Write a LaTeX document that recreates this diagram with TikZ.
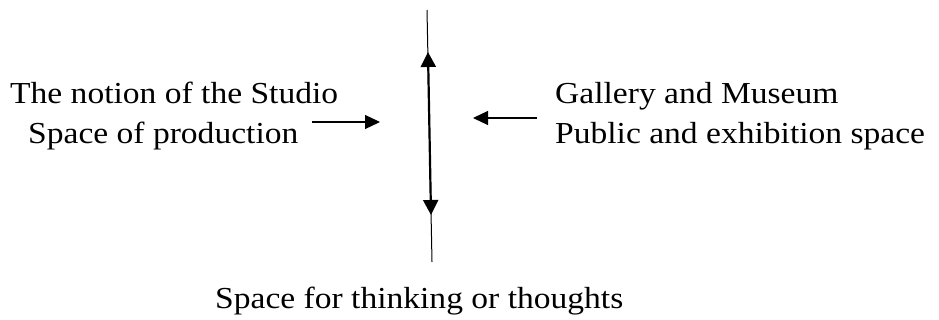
\documentclass[tikz,border=0pt]{standalone}
\usepackage{fontspec}
\setmainfont[FakeStretch=1.1]{Liberation Serif}
\usetikzlibrary{arrows.meta}
\tikzset{
  lbl/.style={inner sep=0pt, anchor=base west, font=\fontsize{30.5}{36}\selectfont},
  harrow/.style={line width=1.2pt, -{Triangle[length=15pt,width=14pt]}},
  axisthin/.style={line width=1pt},
  axisthick/.style={line width=2.2pt, {Triangle[length=15pt,width=15pt]}-{Triangle[length=15pt,width=15pt]}}
}
\begin{document}
\begin{tikzpicture}[x=1pt,y=-1pt]
\useasboundingbox (0,0) rectangle (939,320);
% text
\node[lbl] (l1) at (10,104) {The notion of the Studio};
\node[lbl] (l2) at (28,144) {Space of production};
\node[lbl] (r1) at (555,104) {Gallery and Museum};
\node[lbl] (r2) at (555,144) {Public and exhibition space};
\node[lbl] (b) at (215,308) {Space for thinking or thoughts};
% vertical axis
\coordinate (vt) at (427,10);
\coordinate (vb) at (432,262);
\coordinate (at) at (428,52);
\coordinate (ab) at (431,215);
\draw[axisthin] (vt) -- (vb);
\draw[axisthick] (at) -- (ab);
% horizontal arrows
\coordinate (la) at (312,122);
\coordinate (lt) at (380,122);
\coordinate (ra) at (537,118);
\coordinate (rt) at (473,118);
\draw[harrow] (la) -- (lt);
\draw[harrow] (ra) -- (rt);
\end{tikzpicture}
\end{document}
